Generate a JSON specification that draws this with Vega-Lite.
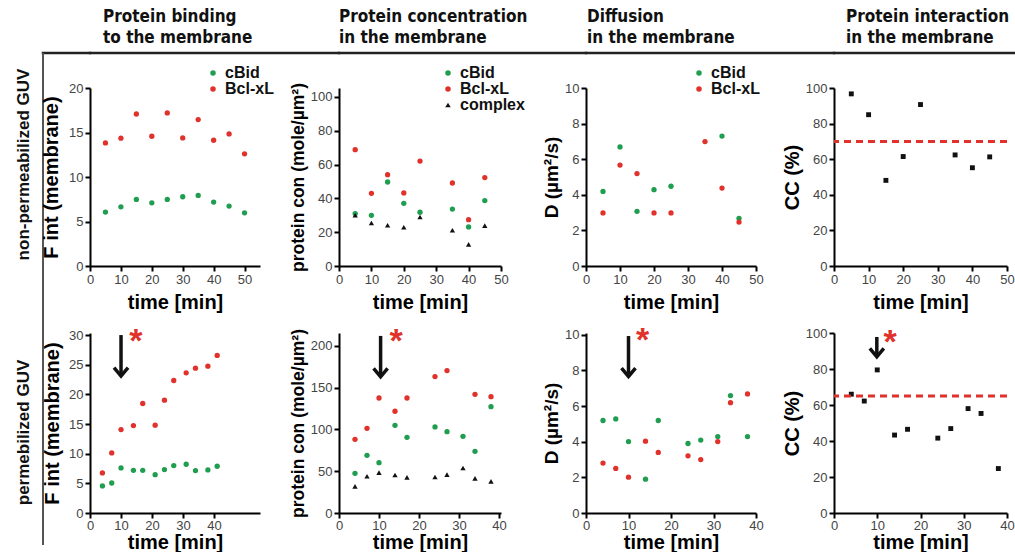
{
"$schema":"https://vega.github.io/schema/vega-lite/v6.json",
"autosize":{"type":"pad"},
"padding":{"left":13,"top":6,"right":0,"bottom":0},
"background":"white",
"config":{
 "view":{"stroke":null},
 "font":"Liberation Sans",
 "axis":{"domainColor":"#000","domainWidth":2,"tickColor":"#000","tickWidth":2,"tickSize":5,"labelFont":"Liberation Sans","labelFontSize":13,"labelColor":"#444","labelPadding":2,"titleFont":"Liberation Sans","titleFontSize":20,"titleFontWeight":"bold","titleColor":"#000","grid":false,"labelFlush":false,"labelOverlap":false},
 "axisY":{"titlePadding":3},
 "legend":{"labelFont":"Liberation Sans","labelFontSize":16,"labelFontWeight":"bold","labelColor":"#111","symbolSize":30,"rowPadding":0,"padding":0,"labelOffset":4,"symbolStrokeWidth":0}
},
"resolve":{"scale":{"color":"independent","shape":"independent"},"legend":{"color":"independent","shape":"independent"}},
"datasets":{
 "p11":[
  {"t":5,"v":6.06,"s":"cBid"},{"t":10,"v":6.65,"s":"cBid"},{"t":15,"v":7.48,"s":"cBid"},{"t":20,"v":7.1,"s":"cBid"},{"t":25,"v":7.48,"s":"cBid"},{"t":30,"v":7.78,"s":"cBid"},{"t":35,"v":7.93,"s":"cBid"},{"t":40,"v":7.18,"s":"cBid"},{"t":45,"v":6.73,"s":"cBid"},{"t":50,"v":5.98,"s":"cBid"},
  {"t":5,"v":13.83,"s":"Bcl-xL"},{"t":10,"v":14.36,"s":"Bcl-xL"},{"t":15,"v":17.08,"s":"Bcl-xL"},{"t":20,"v":14.58,"s":"Bcl-xL"},{"t":25,"v":17.2,"s":"Bcl-xL"},{"t":30,"v":14.39,"s":"Bcl-xL"},{"t":35,"v":16.45,"s":"Bcl-xL"},{"t":40,"v":14.13,"s":"Bcl-xL"},{"t":45,"v":14.84,"s":"Bcl-xL"},{"t":50,"v":12.6,"s":"Bcl-xL"}
 ],
 "p12":[
  {"t":5,"v":31.0,"s":"cBid"},{"t":10,"v":30.0,"s":"cBid"},{"t":15,"v":49.7,"s":"cBid"},{"t":20,"v":37.1,"s":"cBid"},{"t":25,"v":31.8,"s":"cBid"},{"t":35,"v":33.7,"s":"cBid"},{"t":40,"v":23.1,"s":"cBid"},{"t":45,"v":38.7,"s":"cBid"},
  {"t":5,"v":68.8,"s":"Bcl-xL"},{"t":10,"v":43.0,"s":"Bcl-xL"},{"t":15,"v":54.0,"s":"Bcl-xL"},{"t":20,"v":43.2,"s":"Bcl-xL"},{"t":25,"v":62.1,"s":"Bcl-xL"},{"t":35,"v":49.1,"s":"Bcl-xL"},{"t":40,"v":27.4,"s":"Bcl-xL"},{"t":45,"v":52.3,"s":"Bcl-xL"},
  {"t":5,"v":30.0,"s":"complex"},{"t":10,"v":25.4,"s":"complex"},{"t":15,"v":24.1,"s":"complex"},{"t":20,"v":22.9,"s":"complex"},{"t":25,"v":29.0,"s":"complex"},{"t":35,"v":21.1,"s":"complex"},{"t":40,"v":12.8,"s":"complex"},{"t":45,"v":23.9,"s":"complex"}
 ],
 "p13":[
  {"t":5,"v":4.19,"s":"cBid"},{"t":10,"v":6.69,"s":"cBid"},{"t":15,"v":3.07,"s":"cBid"},{"t":20,"v":4.29,"s":"cBid"},{"t":25,"v":4.48,"s":"cBid"},{"t":40,"v":7.3,"s":"cBid"},{"t":45,"v":2.68,"s":"cBid"},
  {"t":5,"v":2.98,"s":"Bcl-xL"},{"t":10,"v":5.67,"s":"Bcl-xL"},{"t":15,"v":5.19,"s":"Bcl-xL"},{"t":20,"v":2.98,"s":"Bcl-xL"},{"t":25,"v":2.98,"s":"Bcl-xL"},{"t":35,"v":6.99,"s":"Bcl-xL"},{"t":40,"v":4.38,"s":"Bcl-xL"},{"t":45,"v":2.47,"s":"Bcl-xL"}
 ],
 "p14":[
  {"t":5,"v":96.7},{"t":10,"v":85.0},{"t":15,"v":48.1},{"t":20,"v":61.5},{"t":25,"v":90.7},{"t":35,"v":62.4},{"t":40,"v":55.2},{"t":45,"v":61.3}
 ],
 "cc1":[{"v":70}],
 "cc2":[{"v":65}],
 "p21":[
  {"t":4,"v":4.56,"s":"cBid"},{"t":7,"v":5.06,"s":"cBid"},{"t":10,"v":7.6,"s":"cBid"},{"t":14,"v":7.2,"s":"cBid"},{"t":17,"v":7.2,"s":"cBid"},{"t":21,"v":6.47,"s":"cBid"},{"t":24,"v":7.32,"s":"cBid"},{"t":27,"v":7.99,"s":"cBid"},{"t":31,"v":8.22,"s":"cBid"},{"t":34,"v":7.15,"s":"cBid"},{"t":38,"v":7.26,"s":"cBid"},{"t":41,"v":7.88,"s":"cBid"},
  {"t":4,"v":6.75,"s":"Bcl-xL"},{"t":7,"v":10.13,"s":"Bcl-xL"},{"t":10,"v":14.07,"s":"Bcl-xL"},{"t":14,"v":14.74,"s":"Bcl-xL"},{"t":17,"v":18.46,"s":"Bcl-xL"},{"t":21,"v":14.8,"s":"Bcl-xL"},{"t":24,"v":19.02,"s":"Bcl-xL"},{"t":27,"v":22.34,"s":"Bcl-xL"},{"t":31,"v":23.64,"s":"Bcl-xL"},{"t":34,"v":24.42,"s":"Bcl-xL"},{"t":38,"v":24.76,"s":"Bcl-xL"},{"t":41,"v":26.56,"s":"Bcl-xL"}
 ],
 "p22":[
  {"t":4,"v":47.5,"s":"cBid"},{"t":7,"v":69.1,"s":"cBid"},{"t":10,"v":60.3,"s":"cBid"},{"t":14,"v":105.0,"s":"cBid"},{"t":17,"v":90.6,"s":"cBid"},{"t":24,"v":103.0,"s":"cBid"},{"t":27,"v":97.4,"s":"cBid"},{"t":31,"v":91.8,"s":"cBid"},{"t":34,"v":73.9,"s":"cBid"},{"t":38,"v":127.3,"s":"cBid"},
  {"t":4,"v":88.2,"s":"Bcl-xL"},{"t":7,"v":101.4,"s":"Bcl-xL"},{"t":10,"v":137.7,"s":"Bcl-xL"},{"t":14,"v":121.8,"s":"Bcl-xL"},{"t":17,"v":137.7,"s":"Bcl-xL"},{"t":24,"v":163.3,"s":"Bcl-xL"},{"t":27,"v":170.5,"s":"Bcl-xL"},{"t":34,"v":142.1,"s":"Bcl-xL"},{"t":38,"v":139.3,"s":"Bcl-xL"},
  {"t":4,"v":31.9,"s":"complex"},{"t":7,"v":43.9,"s":"complex"},{"t":10,"v":48.3,"s":"complex"},{"t":14,"v":45.5,"s":"complex"},{"t":17,"v":42.7,"s":"complex"},{"t":24,"v":43.1,"s":"complex"},{"t":27,"v":45.9,"s":"complex"},{"t":31,"v":53.9,"s":"complex"},{"t":34,"v":41.5,"s":"complex"},{"t":38,"v":37.9,"s":"complex"}
 ],
 "p23":[
  {"t":4,"v":5.19,"s":"cBid"},{"t":7,"v":5.28,"s":"cBid"},{"t":10,"v":4.01,"s":"cBid"},{"t":14,"v":1.9,"s":"cBid"},{"t":17,"v":5.19,"s":"cBid"},{"t":24,"v":3.9,"s":"cBid"},{"t":27,"v":4.09,"s":"cBid"},{"t":31,"v":4.29,"s":"cBid"},{"t":34,"v":6.59,"s":"cBid"},{"t":38,"v":4.29,"s":"cBid"},
  {"t":4,"v":2.8,"s":"Bcl-xL"},{"t":7,"v":2.5,"s":"Bcl-xL"},{"t":10,"v":2.01,"s":"Bcl-xL"},{"t":14,"v":4.03,"s":"Bcl-xL"},{"t":17,"v":3.4,"s":"Bcl-xL"},{"t":24,"v":3.21,"s":"Bcl-xL"},{"t":27,"v":3.0,"s":"Bcl-xL"},{"t":31,"v":4.01,"s":"Bcl-xL"},{"t":34,"v":6.19,"s":"Bcl-xL"},{"t":38,"v":6.68,"s":"Bcl-xL"}
 ],
 "p24":[
  {"t":4,"v":66.0},{"t":7,"v":62.2},{"t":10,"v":79.5},{"t":14,"v":43.3},{"t":17,"v":46.5},{"t":24,"v":41.6},{"t":27,"v":46.9},{"t":31,"v":58.0},{"t":34,"v":55.3},{"t":38,"v":24.7}
 ],
 "a21":[{"t":10,"top":30,"tip":23.1,"at":14.8,"av":29.2}],
 "a22":[{"t":10.4,"top":212,"tip":163,"at":14.3,"av":207}],
 "a23":[{"t":10,"top":9.93,"tip":7.66,"at":13.3,"av":9.78}],
 "a24":[{"t":9.9,"top":97.8,"tip":86.8,"at":13.0,"av":95.7}]
},
"columns":5,
"align":"each",
"bounds":"flush",
"spacing":0,
"concat":[
 {"width":47,"height":0.01,"data":{"values":[]},"mark":"point","view":{"stroke":"#222","strokeWidth":2.5}},
 {"width":249,"height":0.01,"data":{"values":[]},"mark":"point","view":{"stroke":"#222","strokeWidth":2.5},"title":{"text":["Protein binding","to the membrane"],"anchor":"start","orient":"top","offset":6,"dx":13,"font":"Liberation Sans Narrow, Arial Narrow, DejaVu Sans Condensed, sans-serif","fontSize":17,"fontWeight":"bold","lineHeight":21,"color":"#111"}},
 {"width":247,"height":0.01,"data":{"values":[]},"mark":"point","view":{"stroke":"#222","strokeWidth":2.5},"title":{"text":["Protein concentration","in the membrane"],"anchor":"start","orient":"top","offset":6,"dx":0,"font":"Liberation Sans Narrow, Arial Narrow, DejaVu Sans Condensed, sans-serif","fontSize":17,"fontWeight":"bold","lineHeight":21,"color":"#111"}},
 {"width":248,"height":0.01,"data":{"values":[]},"mark":"point","view":{"stroke":"#222","strokeWidth":2.5},"title":{"text":["Diffusion","in the membrane"],"anchor":"start","orient":"top","offset":6,"dx":1,"font":"Liberation Sans Narrow, Arial Narrow, DejaVu Sans Condensed, sans-serif","fontSize":17,"fontWeight":"bold","lineHeight":21,"color":"#111"}},
 {"width":184,"height":0.01,"data":{"values":[]},"mark":"point","view":{"stroke":"#222","strokeWidth":2.5},"title":{"text":["Protein interaction","in the membrane"],"anchor":"start","orient":"top","offset":6,"dx":12,"font":"Liberation Sans Narrow, Arial Narrow, DejaVu Sans Condensed, sans-serif","fontSize":17,"fontWeight":"bold","lineHeight":21,"color":"#111"}},

 {"width":0.01,"height":34,"data":{"values":[]},"mark":"point","view":{"stroke":"#555","strokeWidth":2}},
 {"width":1,"height":1,"data":{"values":[]},"mark":"point"},
 {"width":1,"height":1,"data":{"values":[]},"mark":"point"},
 {"width":1,"height":1,"data":{"values":[]},"mark":"point"},
 {"width":1,"height":1,"data":{"values":[]},"mark":"point"},

 {"width":0.01,"height":245,"data":{"values":[]},"mark":"point","view":{"stroke":"#555","strokeWidth":2},"title":{"text":"non-permeabilized GUV","orient":"left","anchor":"middle","offset":10,"dx":46,"font":"Liberation Sans","fontSize":17,"fontWeight":"bold","color":"#111"}},
 {"width":170,"height":178,"data":{"name":"p11"},
  "mark":{"type":"point","filled":true,"size":28,"opacity":1},
  "encoding":{
   "x":{"field":"t","type":"quantitative","scale":{"domain":[0,55],"nice":false,"zero":false},"axis":{"values":[0,10,20,30,40,50],"titlePadding":6},"title":"time [min]"},
   "y":{"field":"v","type":"quantitative","scale":{"domain":[0,20],"nice":false},"axis":{"values":[0,5,10,15,20],"titlePadding":7},"title":"F int (membrane)"},
   "color":{"field":"s","type":"nominal","scale":{"domain":["cBid","Bcl-xL"],"range":["#1f9e4f","#e0312b"]},"legend":{"orient":"none","legendX":115,"legendY":-23,"title":null}}
  }},
 {"width":162,"height":178,"data":{"name":"p12"},
  "mark":{"type":"point","filled":true,"size":28,"opacity":1},
  "encoding":{
   "x":{"field":"t","type":"quantitative","scale":{"domain":[0,50],"nice":false,"zero":false},"axis":{"values":[0,10,20,30,40,50],"titlePadding":6},"title":"time [min]"},
   "y":{"field":"v","type":"quantitative","scale":{"domain":[0,105.3],"nice":false},"axis":{"values":[0,20,40,60,80,100],"titleFontSize":17.5},"title":"protein con (mole/µm²)"},
   "color":{"field":"s","type":"nominal","scale":{"domain":["cBid","Bcl-xL","complex"],"range":["#1f9e4f","#e0312b","#111111"]},"legend":{"orient":"none","legendX":101,"legendY":-23,"title":null}},
   "shape":{"field":"s","type":"nominal","scale":{"domain":["cBid","Bcl-xL","complex"],"range":["circle","circle","triangle-up"]},"legend":{"orient":"none","legendX":101,"legendY":-23,"title":null}}
  }},
 {"width":170,"height":178,"data":{"name":"p13"},
  "mark":{"type":"point","filled":true,"size":28,"opacity":1},
  "encoding":{
   "x":{"field":"t","type":"quantitative","scale":{"domain":[0,50],"nice":false,"zero":false},"axis":{"values":[0,10,20,30,40,50],"titlePadding":6},"title":"time [min]"},
   "y":{"field":"v","type":"quantitative","scale":{"domain":[0,10],"nice":false},"axis":{"values":[0,2,4,6,8,10],"titleFontSize":19},"title":"D (µm²/s)"},
   "color":{"field":"s","type":"nominal","scale":{"domain":["cBid","Bcl-xL"],"range":["#1f9e4f","#e0312b"]},"legend":{"orient":"none","legendX":105,"legendY":-23,"title":null}}
  }},
 {"width":173,"height":178,
  "layer":[
   {"data":{"name":"p14"},"mark":{"type":"square","size":24,"color":"#111","opacity":1},
    "encoding":{
     "x":{"field":"t","type":"quantitative","scale":{"domain":[0,50],"nice":false,"zero":false},"axis":{"values":[0,10,20,30,40,50],"titlePadding":6},"title":"time [min]"},
     "y":{"field":"v","type":"quantitative","scale":{"domain":[0,100],"nice":false},"axis":{"values":[0,20,40,60,80,100]},"title":"CC (%)"}
    }},
   {"data":{"name":"cc1"},"mark":{"type":"rule","color":"#e0312b","strokeWidth":3,"strokeDash":[7,5]},
    "encoding":{"y":{"field":"v","type":"quantitative","scale":{"domain":[0,100],"nice":false},"axis":{"values":[0,20,40,60,80,100]},"title":"CC (%)"}}}
  ]},

 {"width":0.01,"height":211,"data":{"values":[]},"mark":"point","view":{"stroke":"#555","strokeWidth":2},"title":{"text":"permebilized GUV","orient":"left","anchor":"middle","offset":10,"dx":6,"font":"Liberation Sans","fontSize":17,"fontWeight":"bold","color":"#111"}},
 {"width":170,"height":180,
  "layer":[
   {"data":{"name":"p21"},"mark":{"type":"point","filled":true,"size":28,"opacity":1},
    "encoding":{
     "x":{"field":"t","type":"quantitative","scale":{"domain":[0,54.8],"nice":false,"zero":false},"axis":{"values":[0,10,20,30,40],"labelPadding":1,"titlePadding":0},"title":"time [min]"},
     "y":{"field":"v","type":"quantitative","scale":{"domain":[0,30.35],"nice":false},"axis":{"values":[0,5,10,15,20,25,30],"titlePadding":6},"title":"F int (membrane)"},
     "color":{"field":"s","type":"nominal","scale":{"domain":["cBid","Bcl-xL"],"range":["#1f9e4f","#e0312b"]},"legend":null}
    }},
   {"data":{"name":"a21"},"mark":{"type":"rule","strokeWidth":3.5,"color":"#111"},
    "encoding":{
     "x":{"field":"t","type":"quantitative","scale":{"domain":[0,54.8],"nice":false,"zero":false},"axis":{"values":[0,10,20,30,40],"labelPadding":1,"titlePadding":0},"title":"time [min]"},
     "y":{"field":"top","type":"quantitative","scale":{"domain":[0,30.35],"nice":false},"axis":{"values":[0,5,10,15,20,25,30],"titlePadding":6},"title":"F int (membrane)"},
     "y2":{"field":"tip"}}},
   {"data":{"name":"a21"},"mark":{"type":"point","shape":"M-1,-1.2L0,0L1,-1.2","size":196,"filled":false,"strokeWidth":3.5,"color":"#111","opacity":1,"strokeJoin":"miter"},
    "encoding":{
     "x":{"field":"t","type":"quantitative","scale":{"domain":[0,54.8],"nice":false,"zero":false},"axis":{"values":[0,10,20,30,40],"labelPadding":1,"titlePadding":0},"title":"time [min]"},
     "y":{"field":"tip","type":"quantitative","scale":{"domain":[0,30.35],"nice":false},"axis":{"values":[0,5,10,15,20,25,30],"titlePadding":6},"title":"F int (membrane)"}}},
   {"data":{"name":"a21"},"mark":{"type":"text","text":"*","fontSize":34,"fontWeight":"bold","color":"#e0312b","baseline":"alphabetic","align":"center","dy":12},
    "encoding":{
     "x":{"field":"at","type":"quantitative","scale":{"domain":[0,54.8],"nice":false,"zero":false},"axis":{"values":[0,10,20,30,40],"labelPadding":1,"titlePadding":0},"title":"time [min]"},
     "y":{"field":"av","type":"quantitative","scale":{"domain":[0,30.35],"nice":false},"axis":{"values":[0,5,10,15,20,25,30],"titlePadding":6},"title":"F int (membrane)"}}}
  ]},
 {"width":162,"height":180,
  "layer":[
   {"data":{"name":"p22"},"mark":{"type":"point","filled":true,"size":28,"opacity":1},
    "encoding":{
     "x":{"field":"t","type":"quantitative","scale":{"domain":[0,40.5],"nice":false,"zero":false},"axis":{"values":[0,10,20,30,40],"labelPadding":1,"titlePadding":0},"title":"time [min]"},
     "y":{"field":"v","type":"quantitative","scale":{"domain":[0,215.5],"nice":false},"axis":{"values":[0,50,100,150,200],"titleFontSize":17.5},"title":"protein con (mole/µm²)"},
     "color":{"field":"s","type":"nominal","scale":{"domain":["cBid","Bcl-xL","complex"],"range":["#1f9e4f","#e0312b","#111111"]},"legend":null},
     "shape":{"field":"s","type":"nominal","scale":{"domain":["cBid","Bcl-xL","complex"],"range":["circle","circle","triangle-up"]},"legend":null}
    }},
   {"data":{"name":"a22"},"mark":{"type":"rule","strokeWidth":3.5,"color":"#111"},
    "encoding":{
     "x":{"field":"t","type":"quantitative","scale":{"domain":[0,40.5],"nice":false,"zero":false},"axis":{"values":[0,10,20,30,40],"labelPadding":1,"titlePadding":0},"title":"time [min]"},
     "y":{"field":"top","type":"quantitative","scale":{"domain":[0,215.5],"nice":false},"axis":{"values":[0,50,100,150,200],"titleFontSize":17.5},"title":"protein con (mole/µm²)"},
     "y2":{"field":"tip"}}},
   {"data":{"name":"a22"},"mark":{"type":"point","shape":"M-1,-1.2L0,0L1,-1.2","size":196,"filled":false,"strokeWidth":3.5,"color":"#111","opacity":1,"strokeJoin":"miter"},
    "encoding":{
     "x":{"field":"t","type":"quantitative","scale":{"domain":[0,40.5],"nice":false,"zero":false},"axis":{"values":[0,10,20,30,40],"labelPadding":1,"titlePadding":0},"title":"time [min]"},
     "y":{"field":"tip","type":"quantitative","scale":{"domain":[0,215.5],"nice":false},"axis":{"values":[0,50,100,150,200],"titleFontSize":17.5},"title":"protein con (mole/µm²)"}}},
   {"data":{"name":"a22"},"mark":{"type":"text","text":"*","fontSize":34,"fontWeight":"bold","color":"#e0312b","baseline":"alphabetic","align":"center","dy":12},
    "encoding":{
     "x":{"field":"at","type":"quantitative","scale":{"domain":[0,40.5],"nice":false,"zero":false},"axis":{"values":[0,10,20,30,40],"labelPadding":1,"titlePadding":0},"title":"time [min]"},
     "y":{"field":"av","type":"quantitative","scale":{"domain":[0,215.5],"nice":false},"axis":{"values":[0,50,100,150,200],"titleFontSize":17.5},"title":"protein con (mole/µm²)"}}}
  ]},
 {"width":170,"height":180,
  "layer":[
   {"data":{"name":"p23"},"mark":{"type":"point","filled":true,"size":28,"opacity":1},
    "encoding":{
     "x":{"field":"t","type":"quantitative","scale":{"domain":[0,40],"nice":false,"zero":false},"axis":{"values":[0,10,20,30,40],"labelPadding":1,"titlePadding":0},"title":"time [min]"},
     "y":{"field":"v","type":"quantitative","scale":{"domain":[0,10.1],"nice":false},"axis":{"values":[0,2,4,6,8,10],"titleFontSize":19},"title":"D (µm²/s)"},
     "color":{"field":"s","type":"nominal","scale":{"domain":["cBid","Bcl-xL"],"range":["#1f9e4f","#e0312b"]},"legend":null}
    }},
   {"data":{"name":"a23"},"mark":{"type":"rule","strokeWidth":3.5,"color":"#111"},
    "encoding":{
     "x":{"field":"t","type":"quantitative","scale":{"domain":[0,40],"nice":false,"zero":false},"axis":{"values":[0,10,20,30,40],"labelPadding":1,"titlePadding":0},"title":"time [min]"},
     "y":{"field":"top","type":"quantitative","scale":{"domain":[0,10.1],"nice":false},"axis":{"values":[0,2,4,6,8,10],"titleFontSize":19},"title":"D (µm²/s)"},
     "y2":{"field":"tip"}}},
   {"data":{"name":"a23"},"mark":{"type":"point","shape":"M-1,-1.2L0,0L1,-1.2","size":196,"filled":false,"strokeWidth":3.5,"color":"#111","opacity":1,"strokeJoin":"miter"},
    "encoding":{
     "x":{"field":"t","type":"quantitative","scale":{"domain":[0,40],"nice":false,"zero":false},"axis":{"values":[0,10,20,30,40],"labelPadding":1,"titlePadding":0},"title":"time [min]"},
     "y":{"field":"tip","type":"quantitative","scale":{"domain":[0,10.1],"nice":false},"axis":{"values":[0,2,4,6,8,10],"titleFontSize":19},"title":"D (µm²/s)"}}},
   {"data":{"name":"a23"},"mark":{"type":"text","text":"*","fontSize":34,"fontWeight":"bold","color":"#e0312b","baseline":"alphabetic","align":"center","dy":12},
    "encoding":{
     "x":{"field":"at","type":"quantitative","scale":{"domain":[0,40],"nice":false,"zero":false},"axis":{"values":[0,10,20,30,40],"labelPadding":1,"titlePadding":0},"title":"time [min]"},
     "y":{"field":"av","type":"quantitative","scale":{"domain":[0,10.1],"nice":false},"axis":{"values":[0,2,4,6,8,10],"titleFontSize":19},"title":"D (µm²/s)"}}}
  ]},
 {"width":173,"height":180,
  "layer":[
   {"data":{"name":"p24"},"mark":{"type":"square","size":24,"color":"#111","opacity":1},
    "encoding":{
     "x":{"field":"t","type":"quantitative","scale":{"domain":[0,40],"nice":false,"zero":false},"axis":{"values":[0,10,20,30,40],"labelPadding":1,"titlePadding":0},"title":"time [min]"},
     "y":{"field":"v","type":"quantitative","scale":{"domain":[0,100],"nice":false},"axis":{"values":[0,20,40,60,80,100]},"title":"CC (%)"}
    }},
   {"data":{"name":"cc2"},"mark":{"type":"rule","color":"#e0312b","strokeWidth":3,"strokeDash":[7,5]},
    "encoding":{"y":{"field":"v","type":"quantitative","scale":{"domain":[0,100],"nice":false},"axis":{"values":[0,20,40,60,80,100]},"title":"CC (%)"}}},
   {"data":{"name":"a24"},"mark":{"type":"rule","strokeWidth":3.5,"color":"#111"},
    "encoding":{
     "x":{"field":"t","type":"quantitative","scale":{"domain":[0,40],"nice":false,"zero":false},"axis":{"values":[0,10,20,30,40],"labelPadding":1,"titlePadding":0},"title":"time [min]"},
     "y":{"field":"top","type":"quantitative","scale":{"domain":[0,100],"nice":false},"axis":{"values":[0,20,40,60,80,100]},"title":"CC (%)"},
     "y2":{"field":"tip"}}},
   {"data":{"name":"a24"},"mark":{"type":"point","shape":"M-1,-1.2L0,0L1,-1.2","size":196,"filled":false,"strokeWidth":3.5,"color":"#111","opacity":1,"strokeJoin":"miter"},
    "encoding":{
     "x":{"field":"t","type":"quantitative","scale":{"domain":[0,40],"nice":false,"zero":false},"axis":{"values":[0,10,20,30,40],"labelPadding":1,"titlePadding":0},"title":"time [min]"},
     "y":{"field":"tip","type":"quantitative","scale":{"domain":[0,100],"nice":false},"axis":{"values":[0,20,40,60,80,100]},"title":"CC (%)"}}},
   {"data":{"name":"a24"},"mark":{"type":"text","text":"*","fontSize":34,"fontWeight":"bold","color":"#e0312b","baseline":"alphabetic","align":"center","dy":12},
    "encoding":{
     "x":{"field":"at","type":"quantitative","scale":{"domain":[0,40],"nice":false,"zero":false},"axis":{"values":[0,10,20,30,40],"labelPadding":1,"titlePadding":0},"title":"time [min]"},
     "y":{"field":"av","type":"quantitative","scale":{"domain":[0,100],"nice":false},"axis":{"values":[0,20,40,60,80,100]},"title":"CC (%)"}}}
  ]}
]
}
